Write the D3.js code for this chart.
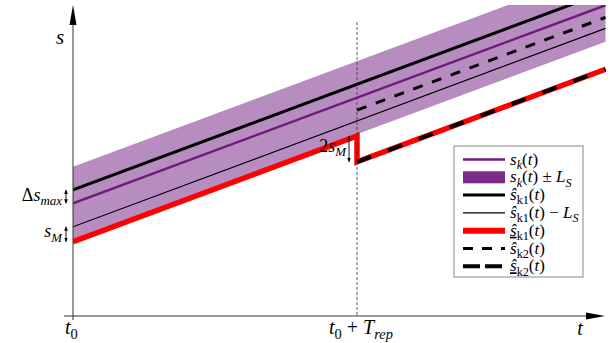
<!DOCTYPE html>
<html>
<head>
<meta charset="utf-8">
<script src="https://cdn.jsdelivr.net/npm/d3@7"></script>
<style>
  body { margin: 0; background: #fff; }
  svg text, svg tspan { font-family: "Liberation Serif", "DejaVu Serif", serif; }
</style>
</head>
<body>
<div id="chart"></div>
<script>
// time in units of T_rep (t0 = 0), s in arbitrary units
const tTicks = [0, 1];
const tEnd = 1.875;
const sTop = 10;

const skLine     = [[0, 3.61], [1.875, 9.96]];
const bandUpper  = [[0, 4.78], [1.875, 11.13]];
const bandLower  = [[0, 2.44], [1.875, 8.79]];
const shatK1     = [[0, 4.04], [1.875, 10.39]];
const shatK1MinL = [[0, 2.86], [1.875, 9.22]];
const sunderK1   = [[0, 2.38], [1, 5.77], [1, 4.94], [1.875, 7.91]];
const shatK2     = [[1, 6.60], [1.875, 9.57]];
const sunderK2   = [[1, 4.94], [1.875, 7.91]];

const width = 610, height = 343;
const purple = "#701a7e";

const svg = d3.select("#chart").append("svg")
    .attr("width", width)
    .attr("height", height);

const x = d3.scaleLinear().domain([0, tEnd]).range([73, 605.5]);
const y = d3.scaleLinear().domain([0, sTop]).range([316, 4]);

const line = d3.line().x(d => x(d[0])).y(d => y(d[1]));

// math-ish label helper: tokens {s, sub, ul, it}
function mathText(sel, tokens, size) {
    let inSub = false;
    tokens.forEach(tk => {
        const ts = sel.append("tspan").text(tk.s);
        const italic = tk.it !== false;
        ts.style("font-style", italic ? "italic" : "normal");
        if (tk.sub && !inSub) { ts.attr("dy", size * 0.25).style("font-size", (size * 0.72) + "px"); inSub = true; }
        else if (tk.sub) { ts.style("font-size", (size * 0.72) + "px"); }
        else if (!tk.sub && inSub) { ts.attr("dy", -size * 0.25); inSub = false; }
        if (tk.ul) ts.style("text-decoration", "underline");
    });
    return sel;
}

const defs = svg.append("defs");
defs.append("clipPath").attr("id", "plot-clip")
    .append("rect")
    .attr("x", x(0)).attr("y", 5)
    .attr("width", x(tEnd) - x(0) + 1).attr("height", y(0) - 5);

const plot = svg.append("g").attr("clip-path", "url(#plot-clip)");

// band s_k(t) +- L_S
const bandData = bandUpper.map((d, i) => [d[0], bandLower[i][1], d[1]]);
plot.append("path")
    .datum(bandData)
    .attr("d", d3.area().x(d => x(d[0])).y0(d => y(d[1])).y1(d => y(d[2])))
    .attr("fill", purple)
    .attr("fill-opacity", 0.5);

plot.append("path").datum(shatK1MinL).attr("d", line)
    .attr("fill", "none").attr("stroke", "#000").attr("stroke-width", 1.2);

plot.append("path").datum(skLine).attr("d", line)
    .attr("fill", "none").attr("stroke", purple).attr("stroke-width", 2.5);

plot.append("path").datum(shatK1).attr("d", line)
    .attr("fill", "none").attr("stroke", "#000").attr("stroke-width", 3);

plot.append("path").datum(shatK2).attr("d", line)
    .attr("fill", "none").attr("stroke", "#000").attr("stroke-width", 3)
    .attr("stroke-dasharray", "10,10");

plot.append("path").datum(sunderK1).attr("d", line)
    .attr("fill", "none").attr("stroke", "#ff0000").attr("stroke-width", 5.5)
    .attr("stroke-linejoin", "miter");

plot.append("path").datum(sunderK2).attr("d", line)
    .attr("fill", "none").attr("stroke", "#000").attr("stroke-width", 4)
    .attr("stroke-dasharray", "15,18");

// dashed vertical at t0 + T_rep
svg.append("line")
    .attr("x1", x(1)).attr("x2", x(1))
    .attr("y1", 22).attr("y2", y(0))
    .attr("stroke", "#333").attr("stroke-width", 0.8)
    .attr("stroke-dasharray", "3,2");

// axes
svg.append("line")
    .attr("x1", 64).attr("x2", 588)
    .attr("y1", y(0)).attr("y2", y(0))
    .attr("stroke", "#777").attr("stroke-width", 1.3);
svg.append("path")
    .attr("d", `M605,${y(0)} L586,${y(0) - 3.5} L586,${y(0) + 3.5} Z`)
    .attr("fill", "#000");

svg.append("line")
    .attr("x1", x(0)).attr("x2", x(0))
    .attr("y1", 320).attr("y2", 22)
    .attr("stroke", "#333").attr("stroke-width", 1);
svg.append("path")
    .attr("d", `M${x(0)},5 L${x(0) - 3.5},25 L${x(0) + 3.5},25 Z`)
    .attr("fill", "#000");

// axis labels
mathText(svg.append("text").attr("x", 60).attr("y", 44)
    .attr("text-anchor", "middle").style("font-size", "21px"), [{ s: "s" }], 21);
mathText(svg.append("text").attr("x", 580).attr("y", 335)
    .attr("text-anchor", "middle").style("font-size", "20px"), [{ s: "t" }], 20);

const tickLabels = [
    [{ s: "t" }, { s: "0", sub: true, it: false }],
    [{ s: "t" }, { s: "0", sub: true, it: false }, { s: " + ", it: false }, { s: "T" }, { s: "rep", sub: true }]
];
tTicks.forEach((t, i) => {
    const tx = svg.append("text")
        .attr("x", i === 0 ? x(t) - 8 : x(t) - 28)
        .attr("y", 334)
        .attr("text-anchor", "start")
        .style("font-size", "20px");
    mathText(tx, tickLabels[i], 20);
});

// small double arrows for annotations
defs.append("marker").attr("id", "ah")
    .attr("viewBox", "0 0 10 10").attr("refX", 9).attr("refY", 5)
    .attr("markerWidth", 5).attr("markerHeight", 5)
    .attr("orient", "auto-start-reverse")
    .append("path").attr("d", "M0,1 L10,5 L0,9 Z").attr("fill", "#000");

function dblArrow(xp, s1, s2) {
    svg.append("line")
        .attr("x1", xp).attr("x2", xp)
        .attr("y1", y(s1)).attr("y2", y(s2))
        .attr("stroke", "#000").attr("stroke-width", 0.9)
        .attr("marker-start", "url(#ah)").attr("marker-end", "url(#ah)");
}

dblArrow(66, shatK1[0][1], skLine[0][1]);
dblArrow(66, shatK1MinL[0][1], sunderK1[0][1]);
dblArrow(x(1) - 8, sunderK1[1][1], sunderK1[2][1]);

mathText(svg.append("text").attr("x", 62).attr("y", y((shatK1[0][1] + skLine[0][1]) / 2) + 4)
    .attr("text-anchor", "end").style("font-size", "18px"),
    [{ s: "Δ", it: false }, { s: "s" }, { s: "max", sub: true }], 18);
mathText(svg.append("text").attr("x", 62).attr("y", y((shatK1MinL[0][1] + sunderK1[0][1]) / 2) + 3)
    .attr("text-anchor", "end").style("font-size", "18px"),
    [{ s: "s" }, { s: "M", sub: true }], 18);
mathText(svg.append("text").attr("x", x(1) - 11).attr("y", y((sunderK1[1][1] + sunderK1[2][1]) / 2) + 3)
    .attr("text-anchor", "end").style("font-size", "18px"),
    [{ s: "2", it: false }, { s: "s" }, { s: "M", sub: true }], 18);

// legend
const legendItems = [
    { type: "line", color: purple, w: 2.5, label: [{ s: "s" }, { s: "k", sub: true }, { s: "(" , it: false }, { s: "t" }, { s: ")", it: false }] },
    { type: "rect", color: purple, label: [{ s: "s" }, { s: "k", sub: true }, { s: "(", it: false }, { s: "t" }, { s: ") ± ", it: false }, { s: "L" }, { s: "S", sub: true }] },
    { type: "line", color: "#000", w: 3, label: [{ s: "ŝ" }, { s: "k1", sub: true, it: false }, { s: "(", it: false }, { s: "t" }, { s: ")", it: false }] },
    { type: "line", color: "#000", w: 1.2, label: [{ s: "ŝ" }, { s: "k1", sub: true, it: false }, { s: "(", it: false }, { s: "t" }, { s: ") − ", it: false }, { s: "L" }, { s: "S", sub: true }] },
    { type: "line", color: "#ff0000", w: 6, label: [{ s: "ŝ", ul: true }, { s: "k1", sub: true, it: false }, { s: "(", it: false }, { s: "t" }, { s: ")", it: false }] },
    { type: "line", color: "#000", w: 3, dash: "10,9", label: [{ s: "ŝ" }, { s: "k2", sub: true, it: false }, { s: "(", it: false }, { s: "t" }, { s: ")", it: false }] },
    { type: "line", color: "#000", w: 4, dash: "17,5", label: [{ s: "ŝ", ul: true }, { s: "k2", sub: true, it: false }, { s: "(", it: false }, { s: "t" }, { s: ")", it: false }] }
];

const legend = svg.append("g").attr("transform", "translate(454,146)");
legend.append("rect")
    .attr("width", 129).attr("height", 131)
    .attr("fill", "#fff").attr("stroke", "#888").attr("stroke-width", 1);

legendItems.forEach((it, i) => {
    const cy = 13.5 + i * 17.8;
    if (it.type === "rect") {
        legend.append("rect").attr("x", 9).attr("y", cy - 6)
            .attr("width", 42).attr("height", 12)
            .attr("fill", purple).attr("fill-opacity", 0.92);
    } else {
        legend.append("line").attr("x1", 9).attr("x2", 51)
            .attr("y1", cy).attr("y2", cy)
            .attr("stroke", it.color).attr("stroke-width", it.w)
            .attr("stroke-dasharray", it.dash || null);
    }
    const tx = legend.append("text").attr("x", 56).attr("y", cy + 5)
        .style("font-size", "17px");
    mathText(tx, it.label, 17);
});
</script>
</body>
</html>
